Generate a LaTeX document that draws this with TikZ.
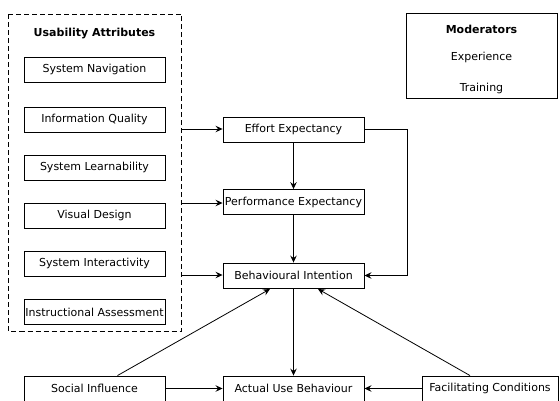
\documentclass[tikz,border=0pt]{standalone}
\usepackage{fontspec}
\setmainfont{DejaVu Sans}
\usetikzlibrary{arrows.meta}
\begin{document}
\begin{tikzpicture}[x=1pt,y=-1pt,
  box/.style={draw,line width=0.9pt,minimum width=141pt,minimum height=25pt,inner sep=0pt,font=\fontsize{11}{13}\selectfont},
  conn/.style={line width=0.8pt,-{Stealth[length=7pt,width=6.5pt,inset=2.5pt]}},
  lbl/.style={inner sep=0pt,font=\fontsize{11}{13}\selectfont}]
\useasboundingbox (0,0) rectangle (560,400);
% usability group
\draw[dash pattern=on 5pt off 3pt,line width=0.9pt] (8.5,14) rectangle (181.5,331);
\node[lbl,font=\bfseries\fontsize{11}{13}\selectfont] (ua) at (94.5,34) {Usability Attributes};
\node[box] (sn) at (94.5,69.5) {System Navigation};
\node[box] (iq) at (94.5,119.5) {Information Quality};
\node[box] (sl) at (94.5,167.5) {System Learnability};
\node[box] (vd) at (94.5,215.5) {Visual Design};
\node[box] (si) at (94.5,263.5) {System Interactivity};
\node[box] (ia) at (94.5,312) {Instructional Assessment};
\coordinate (g1) at (181.5,129);
\coordinate (g2) at (181.5,203);
\coordinate (g3) at (181.5,275);
% middle column
\node[box] (ee) at (293.5,129.5) {Effort Expectancy};
\node[box] (pe) at (293.5,202) {Performance Expectancy};
\node[box] (bi) at (293.5,275.5) {Behavioural Intention};
\node[box] (au) at (293.5,388.5) {Actual Use Behaviour};
\node[box] (soc) at (94.5,388.5) {Social Influence};
\node[box,minimum width=136pt] (fc) at (490,388.5) {Facilitating Conditions};
% moderators
\draw[line width=0.9pt] (406,13) rectangle (557,98);
\node[lbl,font=\bfseries\fontsize{11}{13}\selectfont] (mod) at (481.5,29) {Moderators};
\node[lbl] (exp) at (481.5,57) {Experience};
\node[lbl] (tr) at (481.5,88) {Training};
% connectors
\draw[conn] (g1) -- (ee.west |- g1);
\draw[conn] (g2) -- (pe.west |- g2);
\draw[conn] (g3) -- (bi.west |- g3);
\draw[conn] (ee) -- (pe);
\draw[conn] (pe) -- (bi);
\draw[conn] (bi) -- (au);
\draw[conn] (ee.east) -- (407,129.5) |- (bi.east);
\draw[conn] (soc.north) ++(23,0) -- (270,289);
\draw[conn] (fc.north) ++(-20,0) -- (318,289);
\draw[conn] (soc) -- (au);
\draw[conn] (fc) -- (au);
\end{tikzpicture}
\end{document}
